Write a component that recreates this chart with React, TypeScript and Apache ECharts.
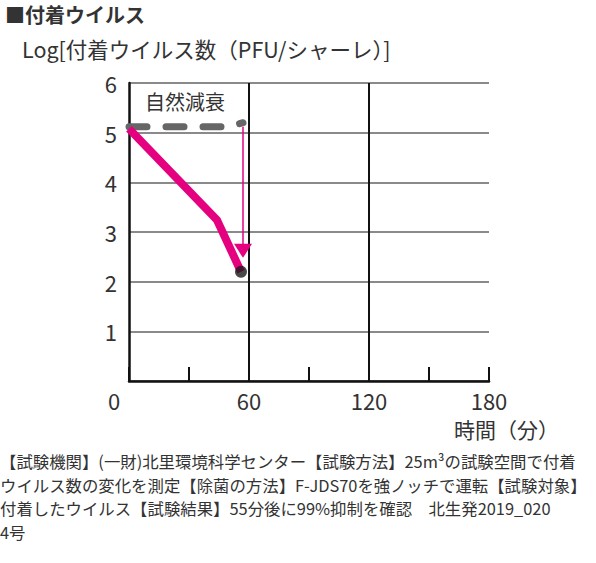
import React, { useEffect, useRef } from "react";
import * as echarts from "echarts";

const titleText = "■付着ウイルス";
const yAxisTitle = "Log[付着ウイルス数（PFU/シャーレ）]";
const xAxisTitle = "時間（分）";
const decayLabel = "自然減衰";
const noteLines = [
  "【試験機関】(一財)北里環境科学センター【試験方法】25m³の試験空間で付着",
  "ウイルス数の変化を測定【除菌の方法】F-JDS70を強ノッチで運転【試験対象】",
  "付着したウイルス【試験結果】55分後に99%抑制を確認　北生発2019_020",
  "4号",
];

const naturalDecay: [number, number][] = [
  [0, 5.12],
  [50, 5.12],
  [57, 5.2],
];
const withDevice: [number, number][] = [
  [0, 5.08],
  [44, 3.24],
  [56, 2.2],
];
const endPoint: [number, number][] = [[56, 2.2]];
const arrowPoints: [number, number][] = [
  [57, 5.12],
  [57, 2.62],
];
const refLines = [60, 120];

const FONT = "'Noto Sans CJK JP', 'Noto Sans', sans-serif";

export default function App() {
  const ref = useRef<HTMLDivElement>(null);
  useEffect(() => {
    document.body.style.margin = "0";
    const chart = echarts.init(ref.current!, null, { renderer: "svg" });
    chart.setOption({
      animation: false,
      textStyle: { fontFamily: FONT },
      grid: { left: 129, right: 107, top: 83, bottom: 182 },
      xAxis: {
        type: "value",
        min: 0,
        max: 180,
        interval: 30,
        axisLine: { lineStyle: { color: "#111", width: 2.5 } },
        axisTick: { inside: true, length: 14, lineStyle: { color: "#111", width: 2 } },
        splitLine: { show: false },
        axisLabel: {
          fontSize: 22,
          color: "#333",
          margin: 8,
          fontFamily: FONT,
          formatter: (v: number) => {
            if (v === 0) return "{a|0}";
            return v % 60 === 0 ? String(v) : "";
          },
          rich: { a: { fontSize: 22, color: "#333", padding: [0, 30, 0, 0], fontFamily: FONT } },
        },
      },
      yAxis: {
        type: "value",
        min: 0,
        max: 6,
        interval: 1,
        axisLine: { show: true, lineStyle: { color: "#111", width: 2.5 } },
        axisTick: { show: false },
        splitLine: { lineStyle: { color: "#8a8a8a", width: 2 } },
        axisLabel: {
          fontSize: 22,
          color: "#333",
          margin: 12,
          fontFamily: FONT,
          formatter: (v: number) => (v === 0 ? "" : String(v)),
        },
      },
      series: [
        {
          type: "line",
          data: naturalDecay,
          symbol: "none",
          lineStyle: { color: "#666", width: 7, type: [18, 19], cap: "round" },
          markLine: {
            silent: true,
            symbol: "none",
            label: { show: false },
            lineStyle: { color: "#111", width: 2, type: "solid" },
            data: refLines.map((v) => ({ xAxis: v })),
          },
          z: 3,
        },
        {
          type: "line",
          data: withDevice,
          symbol: "none",
          lineStyle: { color: "#e4007f", width: 8, cap: "butt", join: "miter" },
          z: 4,
        },
        {
          type: "line",
          data: arrowPoints.map((p, i) =>
            i === 0
              ? { value: p, symbol: "none" }
              : { value: p, symbol: "triangle", symbolRotate: 180, symbolSize: [18, 14] }
          ),
          lineStyle: { color: "#e4007f", width: 1.5 },
          itemStyle: { color: "#e4007f" },
          z: 5,
        },
        {
          type: "scatter",
          data: endPoint,
          symbolSize: 12,
          itemStyle: { color: "#1a1a1a" },
          z: 6,
        },
      ],
      graphic: [
        {
          type: "text",
          left: 5,
          top: 4,
          style: { text: titleText, font: `bold 20px ${FONT}`, fill: "#333" },
        },
        {
          type: "text",
          left: 22,
          top: 38,
          style: { text: yAxisTitle, font: `21.5px ${FONT}`, fill: "#333" },
        },
        {
          type: "text",
          left: 145,
          top: 91,
          style: { text: decayLabel, font: `20px ${FONT}`, fill: "#333" },
        },
        {
          type: "text",
          left: 454,
          top: 418,
          style: { text: xAxisTitle, font: `21px ${FONT}`, fill: "#333" },
        },
        ...noteLines.map((t, i) => ({
          type: "text",
          left: 0,
          top: 453 + i * 23.5,
          style: { text: t, font: `16.4px ${FONT}`, fill: "#333" },
        })),
      ],
    });
    return () => chart.dispose();
  }, []);
  return <div ref={ref} style={{ width: 596, height: 563 }} />;
}
